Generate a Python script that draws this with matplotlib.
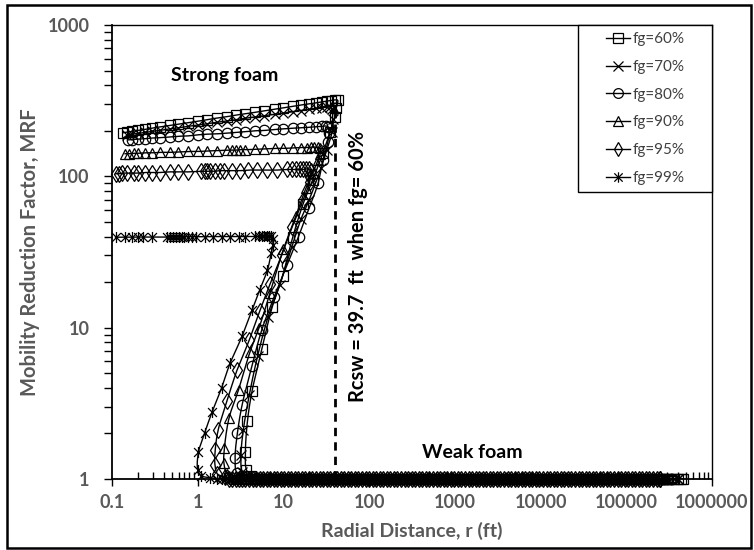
import numpy as np
import matplotlib
matplotlib.use("Agg")
import matplotlib.pyplot as plt
from matplotlib.path import Path
from matplotlib.lines import Line2D
from matplotlib.patches import Rectangle
from matplotlib.ticker import FixedLocator, LogLocator, NullFormatter

plt.rcParams['font.family'] = ['Lato', 'DejaVu Sans']

# ---- data: radial distance r (ft) and mobility reduction factor -------------
# strong-foam plateau followed by the transition branch, per foam quality
r_fg60 = [0.134, 0.15, 0.17, 0.2, 0.24, 0.29, 0.36, 0.47, 0.59, 0.77,
          1.0, 1.3, 1.7, 2.2, 2.8, 3.6, 4.7, 6.0, 8.0, 10,
          13, 16, 20, 24, 28, 32, 36, 40, 43, 41.5,
          40, 35, 29, 22, 17, 12.9, 9.8, 7.4, 5.6, 4.3,
          3.8, 3.6, 3.7, 4.2]
mrf_fg60 = [194, 196, 198, 201, 204, 208, 212, 217, 221, 226,
            231, 237, 243, 248, 254, 259, 265, 271, 278, 283,
            290, 296, 301, 306, 311, 314, 317, 320, 318, 285,
            247, 195, 143, 95, 66, 40, 22, 13.7, 7.2, 3.8,
            2.4, 1.5, 1.15, 1.05]

r_fg70 = [0.15, 0.17, 0.2, 0.24, 0.29, 0.36, 0.47, 0.59, 0.77,
          1.0, 1.3, 1.7, 2.2, 2.8, 3.6, 4.7, 6.0, 8.0, 10,
          13, 16, 20, 24, 28, 32, 35, 37, 37.5, 36.9,
          32, 27.5, 20, 16, 12.5, 9.0, 6.6, 5.0, 4.0, 3.4,
          3.2, 3.3, 3.8]
mrf_fg70 = [188, 190, 192, 195, 198, 201, 206, 209, 214,
            218, 223, 228, 232, 237, 242, 247, 252, 257, 262,
            268, 272, 277, 281, 284, 287, 289, 278, 240, 196,
            150, 114, 70, 52, 34, 19, 11.7, 6.5, 3.6, 2.1,
            1.45, 1.12, 1.04]

r_fg80 = [0.154, 0.17, 0.2, 0.24, 0.29, 0.36, 0.47, 0.59, 0.77,
          1.0, 1.3, 1.7, 2.2, 2.8, 3.6, 4.7, 6.0, 8.0, 10,
          13, 16, 20, 24, 28, 31, 33, 34, 33, 29,
          25.4, 20, 15, 11, 7.8, 5.6, 4.3, 3.3, 2.9, 2.73,
          2.85, 3.3]
mrf_fg80 = [174, 175, 176, 177, 179, 180, 182, 184, 185,
            188, 190, 191, 193, 195, 197, 200, 201, 204, 206,
            208, 209, 211, 213, 214, 215, 213, 192, 169, 128,
            90, 62, 40, 26, 16, 9.7, 5.6, 3.1, 2.0, 1.38,
            1.1, 1.04]

r_fg90 = [0.142, 0.16, 0.18, 0.2, 0.24, 0.29, 0.36, 0.47, 0.59, 0.77,
          1.0, 1.3, 1.7, 2.2, 2.5, 2.8, 3.1, 3.6, 4.7, 6.0,
          8.0, 10, 13, 16, 19, 21, 23, 25, 26.5, 26.8,
          25.3, 22, 18.4, 14, 10, 7.0, 5.2, 4.07, 3.0, 2.32,
          2.05, 2.02, 2.2, 2.7]
mrf_fg90 = [141, 141, 142, 142, 143, 143, 144, 144, 145, 146,
            146, 147, 148, 149, 149, 149, 150, 150, 151, 152,
            153, 153, 154, 155, 155, 156, 156, 156, 154, 140,
            128, 105, 84, 55, 33, 17, 10, 6.9, 3.9, 2.53,
            1.6, 1.28, 1.08, 1.03]

r_fg95 = [0.11, 0.12, 0.13, 0.15, 0.18, 0.2, 0.24, 0.29, 0.36, 0.47,
          0.59, 0.77, 1.1, 1.2, 1.3, 1.4, 1.6, 1.8, 2.0, 2.5,
          3.1, 3.9, 4.9, 6.4, 8.4, 11, 12.5, 14, 15.5, 17,
          18.5, 20, 20.8, 20.6, 20.3, 17, 12.6, 9.5, 7.0, 5.3,
          4.0, 2.88, 2.2, 1.73, 1.6, 1.59, 1.7, 2.1]
mrf_fg95 = [104, 104, 105, 105, 105, 105, 106, 106, 106, 107,
            107, 107, 108, 108, 108, 108, 108, 109, 109, 109,
            109, 110, 110, 110, 110, 111, 111, 111, 111, 111,
            112, 112, 108, 99, 92, 70, 46, 30, 19.5, 12.9,
            8.3, 5.25, 3.3, 2.1, 1.55, 1.24, 1.08, 1.03]

r_fg99 = [0.11, 0.14, 0.17, 0.2, 0.23, 0.29, 0.44, 0.48, 0.52, 0.56,
          0.6, 0.65, 0.7, 0.78, 0.86, 0.95, 1.2, 1.5, 1.9, 2.4,
          3.0, 3.6, 4.6, 5.2, 5.6, 6.0, 6.4, 6.8, 7.2, 7.5,
          7.5, 7.2, 6.5, 5.3, 4.3, 3.3, 2.38, 1.9, 1.47, 1.2,
          1.02, 1.0, 1.1, 1.4]
mrf_fg99 = [39.6, 39.6, 39.6, 39.7, 39.7, 39.7, 39.7, 39.8, 39.8, 39.8,
            39.8, 39.8, 39.8, 39.9, 39.9, 39.9, 39.9, 40.0, 40.0, 40.0,
            40.0, 40.0, 40.1, 40.1, 40.1, 40.1, 40.2, 40.2, 40.2, 38.5,
            35, 31, 24, 17.8, 13, 8.8, 5.8, 4.0, 2.77, 2.0,
            1.5, 1.15, 1.05, 1.02]

# weak-foam region: MRF = 1 on the outer radial grid
r_weak = [1.7, 1.9, 2.1, 2.3, 2.5, 2.8, 3.0, 3.3, 3.6, 4.0, 4.4, 4.8, 5.3,
          5.8, 6.4, 7.0, 7.7, 8.5, 9.3, 10.2, 11.2, 12.3, 13.5, 14.9,
          16.4, 18, 19.8, 21.8, 24, 26.4, 29, 32, 35, 38.5, 42.4, 46.6,
          51.3, 56.4, 62, 68, 75, 83, 91, 100, 110, 121, 133, 146, 161,
          177, 195, 214, 236, 259, 285, 314, 345, 380, 418, 460, 506, 556,
          612, 673, 740, 815, 896, 986, 1085, 1193, 1312, 1444, 1588, 1747,
          1922, 2114, 2325, 2558, 2813, 3095, 3404, 3745, 4119, 4531, 4984,
          5483, 6031, 6634, 7298, 8028, 8830, 9713, 10685, 11753, 12929,
          14222, 15644, 17208, 18929, 20822, 22904, 25195, 27714, 30486,
          33534, 36888, 40577, 44634, 49098, 54008, 59408, 65349, 71884,
          79073, 86980, 95678, 105246, 115770, 127347, 140082, 154090,
          169499, 186449, 205094, 225603, 248164, 272980, 300278, 330306,
          363337, 399670, 439637]
mrf_weak = 1.0
r_outer = [460000, 400000, 340000, 290000, 250000, 210000]

series_labels = ["fg=60%", "fg=70%", "fg=80%", "fg=90%", "fg=95%", "fg=99%"]
r_series = [r_fg60, r_fg70, r_fg80, r_fg90, r_fg95, r_fg99]
mrf_series = [mrf_fg60, mrf_fg70, mrf_fg80, mrf_fg90, mrf_fg95, mrf_fg99]

r_csw = 39.7
mrf_arrow_tip = 300

x_ticks = [0.1, 1, 10, 100, 1000, 10000, 100000, 1000000]
x_ticklabels = ["0.1", "1", "10", "100", "1000", "10000", "100000", "1000000"]
y_ticks = [1, 10, 100, 1000]
y_ticklabels = ["1", "10", "100", "1000"]

# ---- marker shapes --------------------------------------------------------
asterisk = Path([(-1, -1), (1, 1), (-1, 1), (1, -1), (0, -1.25), (0, 1.25)],
                [Path.MOVETO, Path.LINETO] * 3)
markers = ['s', 'x', 'o', '^', 'd', asterisk]
msizes = [7, 7, 7.5, 7.5, 8, 8]


def smooth(xs, ys, n=12):
    """Centripetal Catmull-Rom through the points, in log-log display space."""
    ysc = 151.3 / 85.7
    P = np.column_stack([np.log10(xs), np.log10(ys) * ysc])
    P = np.vstack([2 * P[0] - P[1], P, 2 * P[-1] - P[-2]])
    out = []
    for i in range(1, len(P) - 2):
        p0, p1, p2, p3 = P[i - 1], P[i], P[i + 1], P[i + 2]

        def nxt(t, a, b):
            return t + max(np.linalg.norm(b - a), 1e-6) ** 0.5
        t0 = 0.0
        t1 = nxt(t0, p0, p1)
        t2 = nxt(t1, p1, p2)
        t3 = nxt(t2, p2, p3)
        t = np.linspace(t1, t2, n, endpoint=False)[:, None]
        A1 = (t1 - t) / (t1 - t0) * p0 + (t - t0) / (t1 - t0) * p1
        A2 = (t2 - t) / (t2 - t1) * p1 + (t - t1) / (t2 - t1) * p2
        A3 = (t3 - t) / (t3 - t2) * p2 + (t - t2) / (t3 - t2) * p3
        B1 = (t2 - t) / (t2 - t0) * A1 + (t - t0) / (t2 - t0) * A2
        B2 = (t3 - t) / (t3 - t1) * A2 + (t - t1) / (t3 - t1) * A3
        out.append((t2 - t) / (t2 - t1) * B1 + (t - t1) / (t2 - t1) * B2)
    out.append(P[-2][None, :])
    pts = np.vstack(out)
    return 10 ** pts[:, 0], 10 ** (pts[:, 1] / ysc)


# ---- figure -----------------------------------------------------------------
fig = plt.figure(figsize=(7.54, 5.50), dpi=100)
ax = fig.add_axes([112 / 754, 1 - 479 / 550, 600 / 754, 454 / 550])

gray = '#595959'
handles = []
for r_s, m_s, r_end, mk, ms, lab in zip(r_series, mrf_series, r_outer,
                                          markers, msizes, series_labels):
    tail = [r for r in r_weak if r_s[-1] < r < r_end] + [r_end]
    rr = list(r_s) + tail
    mm = list(m_s) + [mrf_weak] * len(tail)
    sx, sy = smooth(rr, mm)
    ax.plot(sx, sy, color='black', lw=1.0, zorder=2)
    ax.plot(rr, mm, ls='none', marker=mk, ms=ms, mfc='none', mec='black',
            mew=0.9, clip_on=False, zorder=3)
    handles.append(Line2D([], [], color='black', lw=1.0, marker=mk, ms=ms - 0.5,
                          mfc='none', mec='black', mew=0.9, label=lab))

ax.set_xscale('log')
ax.set_yscale('log')
ax.set_xlim(0.1, 1e6)
ax.set_ylim(1, 1000)

ax.xaxis.set_major_locator(FixedLocator(x_ticks))
ax.set_xticklabels(x_ticklabels)
ax.xaxis.set_minor_locator(LogLocator(base=10, subs=np.arange(2, 10), numticks=20))
ax.xaxis.set_minor_formatter(NullFormatter())
ax.yaxis.set_major_locator(FixedLocator(y_ticks))
ax.set_yticklabels(y_ticklabels)
ax.yaxis.set_minor_locator(LogLocator(base=10, subs=np.arange(2, 10), numticks=20))
ax.yaxis.set_minor_formatter(NullFormatter())

ax.tick_params(axis='x', which='major', direction='out', length=5, width=1,
               pad=6, labelsize=13, labelcolor=gray)
ax.tick_params(axis='x', which='minor', direction='in', length=5, width=1)
ax.tick_params(axis='y', which='major', direction='out', length=6, width=1,
               pad=10, labelsize=13, labelcolor=gray)
ax.tick_params(axis='y', which='minor', direction='out', length=6, width=1)
for lbl in ax.get_xticklabels() + ax.get_yticklabels():
    lbl.set_fontweight('bold')

for side in ['left', 'bottom']:
    ax.spines[side].set_linewidth(1.3)
for side in ['top', 'right']:
    ax.spines[side].set_linewidth(1.0)

# critical radius marker
ax.plot([r_csw, r_csw], [1, mrf_arrow_tip * 0.9], color='black', lw=2,
        ls=(0, (3.0, 2.2)), zorder=4)
ax.annotate('', xy=(r_csw, mrf_arrow_tip), xytext=(r_csw, mrf_arrow_tip * 0.88),
            arrowprops=dict(arrowstyle='-|>', color='black', lw=1.5,
                            mutation_scale=12, shrinkA=0, shrinkB=0), zorder=4)

ax.text(0.41, 0.469, "Rcsw = 39.7  ft  when fg= 60%", transform=ax.transAxes,
        rotation=90, ha='center', va='center', fontsize=14.5,
        fontweight='bold', color='black')
ax.text(0.187, 0.888, "Strong foam", transform=ax.transAxes, ha='center',
        va='center', fontsize=14, fontweight='bold', color='black')
ax.text(0.60, 0.059, "Weak foam", transform=ax.transAxes, ha='center',
        va='center', fontsize=14, fontweight='bold', color='black')

# legend panel
ax.add_patch(Rectangle((0.777, 0.632), 0.223, 0.368, transform=ax.transAxes,
                       facecolor='white', edgecolor='black', lw=1.0,
                       zorder=5, clip_on=False))
leg = ax.legend(handles=handles, loc='center',
                bbox_to_anchor=(0.8885, 0.816), frameon=False,
                fontsize=11, labelcolor='#404040', handlelength=1.6,
                handletextpad=0.15, labelspacing=0.9, borderpad=0.2)
leg.set_zorder(6)

fig.text(30 / 754, 1 - 252 / 550, "Mobility Reduction Factor, MRF", rotation=90,
         ha='center', va='center', fontsize=14.5, fontweight='bold', color=gray)
fig.text(412 / 754, 1 - 531 / 550, "Radial Distance, r (ft)", ha='center',
         va='center', fontsize=14, fontweight='bold', color=gray)

# outer chart border
fig.patches.append(Rectangle((7 / 754, 2 / 550), 744 / 754, 543 / 550,
                             transform=fig.transFigure, fill=False,
                             edgecolor='black', lw=1.8))

fig.savefig('out.png', dpi=100)
